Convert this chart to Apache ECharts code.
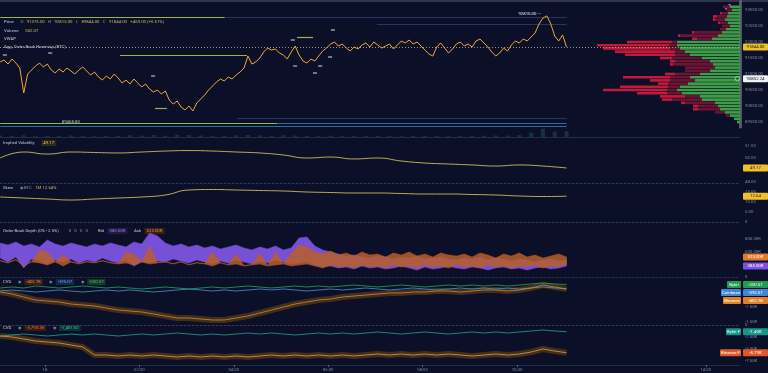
<!DOCTYPE html>
<html><head><meta charset="utf-8">
<script src="https://cdn.jsdelivr.net/npm/echarts@6/dist/echarts.min.js"></script>
<style>html,body{margin:0;padding:0;background:#0b1028;overflow:hidden}#c{width:768px;height:373px}</style>
</head><body><div id="c"></div>
<script>
// ================= DATA =================
// time in hours relative to 18th 00:00 (first sample 23:03 on the 17th)
const T0 = -0.95;
const priceStep = 1 / 12;   // 5 min
const price = [
 91375,91437,91312,91469,91344,91187,90406,91000,91125,91250,
 91344,91219,91312,91125,91031,91156,91062,91187,91094,91000,
 91125,91219,91094,90969,91062,90906,90812,90937,90844,91000,
 90875,90719,90812,90687,90844,90719,90594,90687,90531,90437,
 90500,90375,90469,90187,90062,90156,89969,89875,90000,89844,
 90094,90219,90344,90500,90625,90750,90844,90781,90906,90844,
 90969,91062,91187,91562,91312,91375,91500,91687,91812,91750,
 91781,91656,91594,91469,91687,91875,91594,91406,91344,91469,
 91406,91562,91719,91812,91937,92000,91875,91937,91812,91719,
 91844,91781,91906,91969,91844,92000,91906,91812,91875,91937,
 91781,91906,92031,91969,92062,91937,92000,91875,91750,91625,
 91562,91844,91969,91812,91656,91781,91937,92000,91875,91937,
 91844,92031,92094,91969,91844,91687,91562,91656,91812,91719,
 91906,92031,91969,92094,92031,92156,92281,92562,92750,92815,
 92562,92187,92031,92219,91844
];
const vwapValue = 90852.24;
const volStep = 0.25;
const volume = [140,95,160,85,120,100,150,90,80,110,95,170,130,190,120,210,180,150,110,130,160,190,150,120,170,140,110,100,120,90,105,95,110,100,80,95,105,90,85,100,95,120,150,130,180,420,780,510,552.07];

const ivStep = 0.5;
const iv = [50.00,50.50,50.33,50.50,50.46,50.42,50.50,50.58,50.62,50.58,50.50,50.42,50.25,50.00,50.08,49.92,50.00,49.75,49.58,49.50,49.42,49.33,49.42,49.33,49.17];
const skew = [12.25,11.75,11.25,10.75,11.25,11.75,12.25,13.25,15.75,16.0,15.75,15.5,15.25,14.75,14.5,14.25,14.25,14.0,13.75,13.75,13.5,13.25,12.75,12.5,12.64];

// order book depth (K) : range bands of the noisy bid / ask depth
const obStep = 1 / 6;
const bidHi = [738,708,754,692,723,677,785,723,692,738,708,677,723,692,738,708,677,754,723,892,
 846,738,692,723,677,708,662,692,646,677,708,662,631,677,646,692,631,662,815,831,
 692,631,600,569,538,554,523,508,538,523,492,523,508,538,492,508,523,492,477,508,
 492,523,477,508,492,462,492,477,446,477,492,462,477];
const bidLo = [508,446,523,354,492,462,415,477,446,492,431,477,446,508,462,431,477,385,446,431,
 462,446,492,462,431,477,446,415,462,431,477,446,415,462,431,477,446,415,431,446,
 400,369,385,354,369,338,385,354,369,338,354,385,354,323,369,338,354,385,354,338,
 369,354,323,354,369,338,354,323,354,369,338,354,385];
const askHi = [470,439,485,393,454,631,600,454,554,454,423,454,439,470,439,423,600,569,454,692,
 439,454,423,454,408,439,423,600,439,408,569,393,408,585,393,600,423,585,708,677,
 600,569,615,554,585,538,600,554,569,523,585,554,600,538,569,523,585,554,538,569,
 523,585,554,508,569,538,585,523,554,508,538,569,523];
const askLo = [462,431,477,385,446,431,400,446,385,446,415,446,431,462,431,415,431,400,446,415,
 431,446,415,446,400,431,415,385,431,400,415,385,400,415,385,400,415,385,400,415,
 385,354,400,369,385,354,400,369,385,354,400,369,385,354,400,369,385,354,400,369,
 385,354,400,369,385,354,385,369,400,354,385,369,415];

// CVD (15 min samples)
const cvdStep = 0.25;
const cvdBybit = [-367,-333,-367,-300,-333,-367,-333,-300,-333,-367,-333,-367,-400,-367,-333,-367,-400,-367,-333,-367,
 -333,-300,-333,-367,-333,-300,-333,-300,-333,-300,-267,-300,-333,-300,-267,-300,-333,-300,-267,-300,
 -267,-300,-267,-300,-267,-233,-200,-233,-250.57];
const cvdCoinbase = [-467,-433,-467,-500,-467,-433,-467,-500,-467,-433,-467,-433,-467,-500,-467,-433,-400,-433,-467,-433,
 -467,-433,-400,-433,-400,-433,-467,-433,-400,-433,-400,-367,-400,-433,-400,-367,-400,-433,-400,-367,
 -400,-367,-400,-367,-400,-367,-333,-367,-395.07];
const cvdBinance = [-500,-567,-667,-767,-800,-833,-900,-933,-967,-1033,-1100,-1133,-1167,-1233,-1300,-1367,-1367,-1400,-1433,-1433,
 -1367,-1300,-1200,-1100,-1000,-900,-833,-767,-733,-667,-633,-600,-567,-533,-533,-500,-500,-467,-467,-500,
 -467,-433,-433,-467,-433,-367,-267,-333,-402.78];
const cvdBinanceF = [-2292,-2500,-2917,-3333,-3542,-3750,-4167,-4583,-6250,-6250,-6458,-6250,-6458,-6250,-6458,-6667,-6458,-6667,-6458,-6667,
 -6458,-6667,-6458,-6250,-6458,-6250,-6458,-6250,-6458,-6250,-6458,-6250,-6042,-6250,-6042,-6250,-6042,-6250,-6042,-6250,
 -6458,-6250,-6042,-6250,-6042,-5625,-5000,-5417,-5790.38];
const cvdBybitF = [-2292,-2083,-1875,-2083,-2292,-2083,-1875,-2083,-1875,-2083,-2292,-2083,-1875,-2083,-1875,-1667,-1875,-2083,-1875,-2083,
 -1875,-1667,-1875,-1667,-1875,-2083,-1875,-1667,-1875,-1667,-1875,-1667,-1458,-1667,-1875,-1667,-1458,-1667,-1875,-1667,
 -1458,-1667,-1458,-1667,-1458,-1250,-1042,-1250,-1401.02];

// order book profile (BTC per 100$ level)
const profilePrices = [89500,89600,89700,89800,89900,90000,90100,90200,90300,90400,90500,90600,90700,90800,90900,91000,91100,91200,91300,91400,91500,91600,91700,91800,91900,92000,92100,92200,92300,92400,92500,92600,92700,92800,92900,93000,93100];
const profileBid = [3,6,10,15,20,22,25,38,40,58,63,60,52,45,50,40,30,25,27,30,38,50,55,60,63,63,28,22,18,14,10,12,15,13,12,8,10];
const profileAskNear = [0,0,4,10,22,20,30,30,15,15,10,12,20,25,20,25,25,30,40,35,30,15,10,10,8,5,15,38,28,6,8,8,10,10,6,5,7];
const profileAskFar = [0,0,0,0,5,5,4,10,25,30,64,48,10,20,47,10,0,0,3,5,12,50,60,67,72,45,5,2,2,0,0,2,2,4,2,0,0];

// aggregated order book heatmap levels: [startHour, endHour, price, sizeBTC]
const heatLevels = [
 [-0.95,3.81,92781,150],[3.81,11.05,92781,40],[7.03,11.05,92562,30],[1.59,4.28,91594,130],
 [4.07,11.05,89625,35],[-0.95,4.92,89469,140],[4.92,11.05,89469,70],[-0.95,11.05,89362,80],
 [2.33,2.58,89937,150],[5.34,5.68,92156,150]
];
const liquidations = [[2.29,90938],[5.25,92063],[6.10,92375],[5.30,91250],[5.83,91250],[5.72,91031],[6.04,91531],[-0.85,91594],[0.11,91656]];
const levelNotes = [[0.25,89469,'89468.80']];

// axis ticks
const timeTicks = [0,2,4,6,8,10,14];
const priceTicks = [89500,90000,90500,91000,91500,92000,92500,93000];
const ivTicks = [48,49,50,51];
const skewTicks = [0,5,10,15];
const obTicks = [400,600,800];
const cvdTicks = [0,-500,-1000,-1500];
const cvd2Ticks = [0,-2500,-5000,-7500];

// ================= CHART =================
const FONT = 'Roboto, sans-serif';
const FS = 4.3;
const LABEL = '#7f889c';
const TMIN = -0.953, TMAX = 14.725;
const ts = (arr, step) => arr.map((v, i) => [T0 + i * step, v]);

const panes = [
  {top:0,h:127},{top:118,h:19},{top:137,h:46},{top:183,h:39},{top:222,h:55},{top:277,h:48},{top:325,h:40}
];
const grids = panes.map(p => ({left:0,right:28,top:p.top,height:p.h}));
grids.push({left:590,right:28,top:5.2,height:118.4});

const sep = [null,{type:'solid',color:'#2a3550'},{type:[2,2],color:'#3a4564'},{type:[2,2],color:'#3a4564'},
  {type:[2,2],color:'#2e3854'},{type:[2,2],color:'#3a4564'},{type:'solid',color:'#2a3550'}];
const timeFmt = v => v === 0 ? '18' : String(v).padStart(2,'0') + ':00';
const xAxes = panes.map((p,i) => ({
  type:'value', gridIndex:i, min:TMIN, max:TMAX,
  axisLine:{show:!!sep[i], onZero:false, lineStyle:Object.assign({width:0.8}, sep[i]||{})},
  axisTick:{show:i===6, customValues:timeTicks, length:2, lineStyle:{color:'#5a6378'}},
  axisLabel:{show:i===6, customValues:timeTicks, formatter:timeFmt, color:LABEL, fontSize:FS, fontFamily:FONT, margin:3},
  splitLine:{show:false}
}));
xAxes.push({type:'value', gridIndex:7, inverse:true, min:0, max:150, show:false});

const yLab = (ticks, fmt) => ({customValues:ticks, formatter:fmt, color:LABEL, fontSize:FS, fontFamily:FONT, margin:5});
const kfmt = v => v === 0 ? '0' : (Math.abs(v) >= 1000 ? (v/1000).toFixed(2)+'K' : v.toFixed(2));
const yBase = {type:'value', position:'right', splitLine:{show:false}, axisTick:{show:false}, axisLine:{show:false,onZero:false}};
const yAxes = [
  Object.assign({}, yBase, {gridIndex:0, min:89343.75, max:93312.5,
    axisLine:{show:true,onZero:false,lineStyle:{color:'#55606a',type:[1,1.6],width:3}},
    axisLabel:yLab(priceTicks, v => v.toFixed(2))}),
  Object.assign({}, yBase, {gridIndex:1, min:0, max:1800, axisLabel:{show:false}}),
  Object.assign({}, yBase, {gridIndex:2, min:47.917, max:51.75, axisLabel:yLab(ivTicks, v => v.toFixed(2))}),
  Object.assign({}, yBase, {gridIndex:3, min:-0.25, max:19.25, axisLabel:yLab(skewTicks, v => v === 0 ? '0' : v.toFixed(2))}),
  Object.assign({}, yBase, {gridIndex:4, min:215.4, max:1061.5, axisLabel:yLab(obTicks, v => v.toFixed(2)+'K')}),
  Object.assign({}, yBase, {gridIndex:5, min:-1600, max:0, axisLabel:yLab(cvdTicks, kfmt)}),
  Object.assign({}, yBase, {gridIndex:6, min:-8333, max:0, axisLabel:yLab(cvd2Ticks, kfmt)}),
  {type:'category', gridIndex:7, data:profilePrices.map(String), show:false}
];

const heatColor = s => s >= 100 ? '#a9c45a' : (s >= 60 ? '#3579a8' : '#2c3866');
const lastPrice = price[price.length-1];

// band (range) drawn through the pane's own scales
function band(lo, hi, step, color, opacity, z){
  return {type:'custom', xAxisIndex:4, yAxisIndex:4, silent:true, z:z, clip:true,
    data: lo.map((v,i) => [T0 + i*step, v, hi[i]]),
    encode:{x:0, y:[1,2]},
    renderItem:(params, api) => {
      if (params.dataIndex !== 0) return;
      const top = [], bot = [];
      for (let i = 0; i < lo.length; i++) {
        const t = T0 + i*step;
        top.push(api.coord([t, hi[i]]));
        bot.push(api.coord([t, lo[i]]));
      }
      return {type:'polygon', shape:{points: top.concat(bot.reverse())},
        style:{fill:color, opacity:opacity, stroke:color, lineWidth:0.5}};
    }};
}

const series = [
  {type:'lines', coordinateSystem:'cartesian2d', xAxisIndex:0, yAxisIndex:0, z:1, silent:true,
   data: heatLevels.map(h => ({coords:[[h[0],h[2]],[h[1],h[2]]], lineStyle:{color:heatColor(h[3]), width:1.2, opacity:0.9}}))},
  {type:'scatter', xAxisIndex:0, yAxisIndex:0, z:2, symbol:'rect', symbolSize:[4,1.2], itemStyle:{color:'#e6ebf5'}, data:liquidations, silent:true},
  {type:'scatter', xAxisIndex:0, yAxisIndex:0, z:2, symbolSize:0, data:levelNotes.map(n => ({value:[n[0],n[1]], name:n[2]})),
   label:{show:true, position:'right', formatter:p => p.name, color:'#dfe3ee', fontSize:FS, fontFamily:FONT, offset:[0,-1]}, silent:true},
  {type:'bar', xAxisIndex:1, yAxisIndex:1, data:ts(volume, volStep), barWidth:4, itemStyle:{color:'#2d6f74', opacity:0.35}, silent:true},
  {type:'line', xAxisIndex:0, yAxisIndex:0, z:5, data:ts(price, priceStep), showSymbol:false, silent:true,
   lineStyle:{color:'#f2a53a', width:1},
   markLine:{silent:true, symbol:'none', data:[{yAxis:lastPrice}], label:{show:false},
     lineStyle:{color:'#b9b98e', type:[1,2], width:0.8}},
   markPoint:{symbol:'circle', symbolSize:0, data:[{type:'max'}],
     label:{show:true, position:'left', formatter:p => p.value.toFixed(2) + ' —', color:'#eef1f8', fontSize:FS, fontFamily:FONT, offset:[-1,-2]}}},
  {type:'line', xAxisIndex:2, yAxisIndex:2, data:ts(iv, ivStep), smooth:true, showSymbol:false, silent:true, lineStyle:{color:'#cfc05a', width:0.9}},
  {type:'line', xAxisIndex:3, yAxisIndex:3, data:ts(skew, ivStep), smooth:true, showSymbol:false, silent:true, lineStyle:{color:'#cfc05a', width:0.9}},
  band(bidLo, bidHi, obStep, '#7650d6', 1, 2),
  band(askLo, askHi, obStep, '#b85e28', 0.85, 3),
  {type:'line', xAxisIndex:5, yAxisIndex:5, data:ts(cvdBinance, cvdStep), showSymbol:false, silent:true, lineStyle:{color:'#4a3119', width:6, opacity:0.9}},
  {type:'line', xAxisIndex:5, yAxisIndex:5, data:ts(cvdCoinbase, cvdStep), showSymbol:false, silent:true, lineStyle:{color:'#4f8fd6', width:0.8}},
  {type:'line', xAxisIndex:5, yAxisIndex:5, data:ts(cvdBybit, cvdStep), showSymbol:false, silent:true, lineStyle:{color:'#26a65b', width:0.8}},
  {type:'line', xAxisIndex:5, yAxisIndex:5, data:ts(cvdBinance, cvdStep), showSymbol:false, silent:true, lineStyle:{color:'#c89038', width:0.8}},
  {type:'line', xAxisIndex:6, yAxisIndex:6, data:ts(cvdBinanceF, cvdStep), showSymbol:false, silent:true, lineStyle:{color:'#4a3119', width:6, opacity:0.9}},
  {type:'line', xAxisIndex:6, yAxisIndex:6, data:ts(cvdBybitF, cvdStep), showSymbol:false, silent:true, lineStyle:{color:'#1fa594', width:0.8}},
  {type:'line', xAxisIndex:6, yAxisIndex:6, data:ts(cvdBinanceF, cvdStep), showSymbol:false, silent:true, lineStyle:{color:'#d8a640', width:0.8}},
  {type:'bar', xAxisIndex:7, yAxisIndex:7, stack:'ob', data:profileBid, barCategoryGap:'18%', itemStyle:{color:'#3e9b48'}, silent:true},
  {type:'bar', xAxisIndex:7, yAxisIndex:7, stack:'ob', data:profileAskNear, barCategoryGap:'18%', itemStyle:{color:'#6c1532'}, silent:true},
  {type:'bar', xAxisIndex:7, yAxisIndex:7, stack:'ob', data:profileAskFar, barCategoryGap:'18%', itemStyle:{color:'#c3193b'}, silent:true}
];

const chart = echarts.init(document.getElementById('c'));
chart.setOption({
  backgroundColor:'#0b1028', animation:false,
  grid:grids, xAxis:xAxes, yAxis:yAxes, series:series
});

// ---------- legend texts & value boxes ----------
const R = c => ({fill:c, color:c, fontSize:FS, fontFamily:FONT});
const Rb = (c, bg) => ({fill:c, color:c, fontSize:FS, fontFamily:FONT, backgroundColor:bg, padding:[1,2]});
const rich = {w:R('#c4c9d8'), g:R('#8a92a6'), y:R('#cdb85e'), yb:Rb('#e2c94f','#2c2a1c'),
  p:Rb('#9d7cf0','#231a44'), o:Rb('#f08a3a','#3a2016'), b:Rb('#63a7f0','#15264a'), gr:Rb('#3fd07a','#123a24'),
  r:Rb('#f0683a','#3a1a14'), t:Rb('#30c2ae','#10342f')};
const f2 = v => v.toFixed(2);
const fc = v => v.toLocaleString('en-US',{minimumFractionDigits:2, maximumFractionDigits:2});
const hi = Math.max(...price), lo = Math.min(...price), op = price[0];
const chg = lastPrice - op;
const txt = (x, y, s) => ({type:'text', x:x, y:y, silent:true, style:{text:s, rich:rich, verticalAlign:'middle', align:'left'}});
const g = [];
g.push({type:'rect', shape:{x:0,y:0,width:768,height:2}, style:{fill:'#30364a'}, silent:true});
g.push(txt(4,22,`{w|Price}  {g|O} {y|${f2(op)}} {g|H} {y|${f2(hi)}} {g|L} {y|${f2(lo)}} {g|C} {y|${f2(lastPrice)}} {y|${chg>=0?'+':''}${f2(chg)} (${chg>=0?'+':''}${(chg/op*100).toFixed(2)}%)}`));
g.push(txt(4,31,`{w|Volume}  {y|${f2(volume[volume.length-1])}}`));
g.push(txt(4,39,`{w|VWAP}`));
g.push(txt(4,47,`{w|Agg. Order Book Heatmap (BTC)}`));
g.push(txt(3,143,`{w|Implied Volatility}  {yb|${f2(iv[iv.length-1])}}`));
g.push(txt(3,188,`{w|Skew}  {g|◉ BTC} {y|1M ${f2(skew[skew.length-1])}%}`));
g.push(txt(3,231,`{w|Order Book Depth (0% - 2.5%)}   {g|0   0   0   0}   {w|Bid} {p|${f2(bidLo[bidLo.length-1])}K}  {w|Ask} {o|${f2(askHi[askHi.length-1])}K}`));
g.push(txt(3,282,`{w|CVD}  {g|◉} {o|${fc(cvdBinance[cvdBinance.length-1])}}  {g|◉} {b|${fc(cvdCoinbase[cvdCoinbase.length-1])}}  {g|◉} {gr|${fc(cvdBybit[cvdBybit.length-1])}}`));
g.push(txt(3,328,`{w|CVD}  {g|◉} {r|${fc(cvdBinanceF[cvdBinanceF.length-1])}}  {g|◉} {t|${fc(cvdBybitF[cvdBybitF.length-1])}}`));
g.push({type:'text', x:725, y:7, silent:true, style:{text:'⤢', fill:'#e8ecf4', fontSize:7, fontFamily:'DejaVu Sans', verticalAlign:'middle'}});

const py = (ax, v) => chart.convertToPixel({yAxisIndex:ax}, v);
function valBox(y, text, bg, fg){
  g.push({type:'rect', shape:{x:743,y:y-3.5,width:25,height:7,r:1}, style:{fill:bg}, silent:true, z:10});
  g.push({type:'text', x:755.5, y:y, silent:true, z:11, style:{text:text, fill:fg, fontSize:FS, fontFamily:FONT, align:'center', verticalAlign:'middle'}});
}
function nameBox(y, name, w, bg){
  g.push({type:'rect', shape:{x:742-w,y:y-3.5,width:w-1,height:7,r:1}, style:{fill:bg}, silent:true, z:10});
  g.push({type:'text', x:741.5-w/2, y:y, silent:true, z:11, style:{text:name, fill:'#ffffff', fontSize:FS, fontFamily:FONT, align:'center', verticalAlign:'middle'}});
}
valBox(py(0,lastPrice), f2(lastPrice), '#f0c02c', '#1a1a1a');
const vy = py(0, vwapValue);
g.push({type:'circle', shape:{cx:737.5,cy:vy,r:2.3}, style:{fill:'none', stroke:'#cfd4df', lineWidth:0.7}, silent:true, z:10});
valBox(vy, f2(vwapValue), '#eef0f4', '#1a1a1a');
valBox(py(2, iv[iv.length-1]), f2(iv[iv.length-1]), '#f0c02c', '#1a1a1a');
valBox(py(3, skew[skew.length-1]), f2(skew[skew.length-1]), '#f0c02c', '#1a1a1a');
valBox(py(4, askHi[askHi.length-1]), f2(askHi[askHi.length-1])+'K', '#e4782c', '#ffffff');
valBox(py(4, bidLo[bidLo.length-1]), f2(bidLo[bidLo.length-1])+'K', '#7a52dc', '#ffffff');
const c1 = [
  {n:'Bybit', w:15, bg:'#1f9c52', v:cvdBybit[cvdBybit.length-1]},
  {n:'Coinbase', w:21, bg:'#3d86d6', v:cvdCoinbase[cvdCoinbase.length-1]},
  {n:'Binance', w:19, bg:'#e2802a', v:cvdBinance[cvdBinance.length-1]}
];
let prevY = -1e9;
c1.forEach(c => { let y = Math.max(py(5, c.v), prevY + 8); prevY = y; nameBox(y, c.n, c.w, c.bg); valBox(y, kfmt(c.v), c.bg, '#ffffff'); });
const c2 = [
  {n:'Bybit F', w:16, bg:'#17958a', v:cvdBybitF[cvdBybitF.length-1]},
  {n:'Binance F', w:22, bg:'#e0582a', v:cvdBinanceF[cvdBinanceF.length-1]}
];
prevY = -1e9;
c2.forEach(c => { let y = Math.max(py(6, c.v), prevY + 8); prevY = y; nameBox(y, c.n, c.w, c.bg); valBox(y, kfmt(c.v), c.bg, '#ffffff'); });

chart.setOption({graphic:{elements:g}});
</script>
</body></html>
